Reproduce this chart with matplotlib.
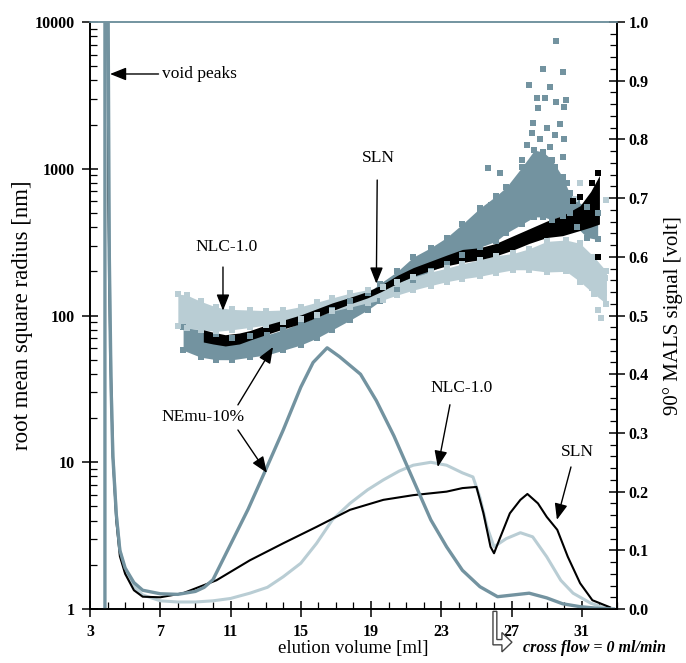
import numpy as np
import matplotlib
matplotlib.use("Agg")
import matplotlib.pyplot as plt
from matplotlib.ticker import LogLocator, NullFormatter, MultipleLocator
from matplotlib.patches import Polygon

plt.rcParams['font.family'] = ['Liberation Serif', 'DejaVu Serif']

GREY = '#7393a0'
LIGHT = '#b9cdd4'
BLACK = '#000000'

# ---- MALS signal (right axis, volt) ----
nemu_x = [3.85, 3.85, 4.0, 4.1, 4.2, 4.3, 4.5, 4.7, 5.0, 5.5, 6.0, 7.0, 8.0, 9.0, 9.5, 10.0,
          11.0, 12.0, 13.0, 14.0, 15.0, 15.7, 16.5, 17.2, 18.4, 19.3, 20.3, 21.4, 22.4, 23.3,
          24.2, 25.2, 26.2, 27.1, 28.0, 29.0, 29.9, 30.9, 32.0, 32.8]
nemu_v = [0.0, 1.2, 1.2, 0.6, 0.38, 0.26, 0.16, 0.10, 0.07, 0.045, 0.032, 0.026, 0.025, 0.03,
          0.037, 0.05, 0.11, 0.17, 0.237, 0.305, 0.378, 0.42, 0.445, 0.43, 0.40, 0.355, 0.295,
          0.22, 0.152, 0.106, 0.066, 0.038, 0.021, 0.024, 0.027, 0.019, 0.009, 0.004, 0.001, 0.0]

nlc_x = [4.0, 4.05, 4.15, 4.3, 4.5, 4.7, 5.0, 5.5, 6.0, 7.0, 8.0, 9.0, 10.0, 11.0, 12.1, 13.1,
         14.0, 15.0, 15.9, 16.8, 17.8, 18.8, 19.7, 20.6, 21.4, 22.4, 23.3, 24.2, 24.8, 25.2,
         25.6, 26.0, 26.7, 27.5, 28.2, 29.0, 29.8, 30.5, 31.5, 32.5]
nlc_v = [1.2, 0.7, 0.45, 0.27, 0.16, 0.10, 0.065, 0.038, 0.024, 0.014, 0.012, 0.012, 0.014,
         0.018, 0.027, 0.037, 0.055, 0.078, 0.112, 0.152, 0.18, 0.203, 0.22, 0.235, 0.245,
         0.25, 0.245, 0.232, 0.225, 0.19, 0.14, 0.106, 0.12, 0.13, 0.123, 0.089, 0.049, 0.027,
         0.01, 0.0]

sln_x = [4.0, 4.05, 4.15, 4.3, 4.5, 4.7, 5.0, 5.5, 6.0, 7.0, 8.3, 10.2, 12.1, 14.0, 15.9, 17.8,
         19.7, 21.4, 23.3, 24.2, 25.0, 25.4, 25.8, 26.0, 26.3, 26.9, 27.5, 27.9, 28.5, 29.0,
         29.6, 30.2, 30.9, 31.6, 32.6]
sln_v = [1.2, 0.7, 0.45, 0.26, 0.15, 0.09, 0.06, 0.032, 0.021, 0.02, 0.027, 0.049, 0.083, 0.112,
         0.14, 0.169, 0.186, 0.194, 0.2, 0.206, 0.208, 0.163, 0.106, 0.095, 0.118, 0.163,
         0.186, 0.196, 0.18, 0.157, 0.135, 0.089, 0.044, 0.015, 0.003]

# ---- rms radius bands (left axis, nm) ----
nlc_rx = [8.0, 8.5, 9.3, 10.2, 11.1, 12.1, 13.0, 14.0, 15.0, 15.9, 16.8, 17.8, 18.8, 19.7,
          20.5, 21.4, 22.4, 23.3, 24.2, 25.2, 26.1, 27.1, 28.0, 29.0, 30.1, 30.9, 31.7, 32.4]
nlc_lo = [85, 82, 80, 78, 80, 83, 86, 90, 95, 101, 107, 114, 122, 128, 138, 149, 160, 170,
          178, 185, 195, 205, 205, 198, 200, 170, 140, 120]
nlc_hi = [140, 138, 125, 114, 110, 109, 108, 109, 115, 123, 132, 142, 150, 156, 168, 183, 198,
          210, 225, 240, 255, 265, 285, 320, 327, 310, 250, 200]
nlc_ox = [30.9, 32.4, 32.25, 32.1, 31.9, 31.1, 31.6, 30.6, 32.3]
nlc_oy = [800, 612, 142, 96, 109, 175, 154, 620, 180]

nemu_rx = [8.3, 9.3, 10.2, 11.1, 12.1, 13.1, 14.0, 15.0, 15.9, 16.8, 17.8, 18.8, 19.5, 20.5,
           21.4, 22.4, 23.3, 24.2, 25.2, 26.1, 26.7, 27.6, 28.3, 28.8, 29.3, 29.9, 30.3, 30.7,
           31.3, 31.9]
nemu_lo = [58, 52, 50, 50, 52, 54, 58, 63, 70, 80, 93, 109, 125, 150, 175, 200, 225, 260, 292,
           320, 365, 420, 470, 470, 450, 480, 500, 400, 340, 330]
nemu_hi = [83, 80, 75, 70, 72, 74, 80, 89, 97, 109, 125, 142, 165, 200, 250, 290, 340, 420, 540,
           650, 750, 1030, 1340, 1300, 1150, 880, 680, 600, 550, 500]
nemu_ox = [29.52, 28.8, 29.9, 28.0, 29.2, 28.45, 28.9, 29.5, 30.1, 28.5, 30.0, 28.2, 29.0, 29.75,
           28.15, 28.6, 29.45, 30.0, 27.9, 29.2, 29.9, 25.65, 26.35, 27.6, 28.6, 29.45, 25.8,
           25.2, 30.15, 29.6]
nemu_oy = [7450, 4790, 4540, 3700, 3620, 3035, 3035, 2860, 2950, 2580, 2650, 2060, 1900, 2030,
           1760, 1590, 1700, 1590, 1450, 1410, 1200, 1010, 935, 1140, 1090, 1030, 565, 525, 800,
           840]

sln_rx = [9.45, 10.0, 10.7, 11.5, 12.1, 13.0, 14.0, 15.0, 15.9, 16.8, 17.8, 18.8, 19.6, 20.5,
          21.4, 22.4, 23.3, 24.2, 25.2, 26.1, 27.1, 28.0, 29.0, 29.9, 30.9, 31.5, 32.0]
sln_lo = [66, 64, 62, 64, 68, 74, 81, 88, 97, 108, 120, 132, 146, 166, 185, 203, 218, 230, 240,
          255, 280, 310, 340, 350, 380, 400, 420]
sln_hi = [80, 77, 74, 76, 79, 86, 93, 101, 111, 122, 133, 146, 162, 188, 212, 235, 258, 282,
          290, 310, 350, 390, 440, 480, 560, 700, 900]
sln_ox = [31.9, 30.9, 31.9, 31.6, 31.3, 30.5]
sln_oy = [935, 640, 250, 800, 450, 600]

xticks = [3, 7, 11, 15, 19, 23, 27, 31]
lticks = [1, 10, 100, 1000, 10000]
lticklabels = ['1', '10', '100', '1000', '10000']
rticks = [0.0, 0.1, 0.2, 0.3, 0.4, 0.5, 0.6, 0.7, 0.8, 0.9, 1.0]
rticklabels = ['%.1f' % t for t in rticks]

fig = plt.figure(figsize=(6.86, 6.63), dpi=100)
ax = fig.add_axes([0.1312, 0.0814, 0.7682, 0.8854])
ax2 = ax.twinx()

# bands of square markers
for bx, lo, hi, ox, oy, col, edge in [(nemu_rx, nemu_lo, nemu_hi, nemu_ox, nemu_oy, GREY, True),
                                      (nlc_rx, nlc_lo, nlc_hi, nlc_ox, nlc_oy, LIGHT, True),
                                      (sln_rx, sln_lo, sln_hi, sln_ox, sln_oy, BLACK, False)]:
    ax.fill_between(bx, lo, hi, color=col, lw=0)
    if edge:
        ax.plot(bx, lo, 's', color=col, ms=4, mew=0)
        ax.plot(bx, hi, 's', color=col, ms=4, mew=0)
    ax.plot(ox, oy, 's', color=col, ms=5, mew=0)

ax.set_yscale('log')
ax.set_xlim(3, 33)
ax.set_ylim(1, 10000)
ax.set_yticks(lticks)
ax.set_yticklabels(lticklabels)
ax.yaxis.set_minor_locator(LogLocator(base=10, subs=range(2, 10)))
ax.yaxis.set_minor_formatter(NullFormatter())
ax.set_xticks(xticks)
ax.xaxis.set_minor_locator(MultipleLocator(1))

# MALS traces
ax2.plot(nlc_x, nlc_v, color=LIGHT, lw=2.2)
ax2.plot(sln_x, sln_v, color=BLACK, lw=1.5)
ax2.plot(nemu_x, nemu_v, color=GREY, lw=2.4)
ax2.set_ylim(0, 1.0)
ax2.set_yticks(rticks)
ax2.set_yticklabels(rticklabels)
ax2.yaxis.set_minor_locator(MultipleLocator(0.02))

for a in (ax, ax2):
    a.tick_params(which='major', direction='inout', length=11, width=1.1, labelsize=11.5, pad=3)
    a.tick_params(which='minor', direction='in', length=5, width=0.9)
    for s in a.spines.values():
        s.set_linewidth(1.2)
    a.spines['top'].set_color(GREY)
ax.tick_params(axis='x', pad=5)
ax.tick_params(axis='y', pad=5.5)
for lab in ax.get_xticklabels() + ax.get_yticklabels() + ax2.get_yticklabels():
    lab.set_fontweight('bold')

ax.set_xlabel('elution volume [ml]', fontsize=13.5, labelpad=0)
ax.set_ylabel('root mean square radius [nm]', fontsize=16.5, labelpad=1)
ax2.set_ylabel('90° MALS signal [volt]', fontsize=15, labelpad=10)

ap = dict(arrowstyle='-|>,head_length=0.7,head_width=0.28', color='black', lw=1.0,
          shrinkA=0, shrinkB=0, mutation_scale=14)
fs = 12.5
ax.annotate('', xy=(4.14, 4424), xytext=(6.9, 4424), arrowprops=ap)
ax.text(7.1, 4424, 'void peaks', fontsize=fs, va='center', ha='left')
ax.annotate('', xy=(19.3, 165), xytext=(19.35, 838), arrowprops=ap)
ax.text(19.4, 1183, 'SLN', fontsize=fs, va='center', ha='center')
ax.annotate('', xy=(10.57, 108), xytext=(10.57, 214), arrowprops=ap)
ax.text(10.75, 293, 'NLC-1.0', fontsize=fs, va='center', ha='center')
ax.text(9.43, 20.3, 'NEmu-10%', fontsize=fs, va='center', ha='center')
ax.annotate('', xy=(13.42, 61), xytext=(11.42, 24.6), arrowprops=ap)
ax2.annotate('', xy=(13.07, 0.232), xytext=(11.42, 0.305), arrowprops=ap)
ax2.text(24.17, 0.376, 'NLC-1.0', fontsize=fs, va='center', ha='center')
ax2.annotate('', xy=(22.8, 0.242), xytext=(23.49, 0.348), arrowprops=ap)
ax2.text(30.72, 0.267, 'SLN', fontsize=fs, va='center', ha='center')
ax2.annotate('', xy=(29.58, 0.152), xytext=(30.38, 0.242), arrowprops=ap)

# cross flow marker below the axis
tr = ax.get_xaxis_transform()
arrow_pts = [(25.94, -0.004), (25.94, -0.061), (26.45, -0.061), (26.45, -0.073),
             (27.02, -0.0565), (26.45, -0.040), (26.45, -0.052), (26.16, -0.052),
             (26.16, -0.004)]
ax.add_patch(Polygon(arrow_pts, closed=True, fc='white', ec='#444444', lw=1.0,
                     transform=tr, clip_on=False, zorder=5))
ax.text(27.65, -0.067, 'cross flow = 0 ml/min', transform=tr, fontsize=11.5,
        style='italic', fontweight='bold', va='center', ha='left')

fig.savefig('out.png', dpi=100)
